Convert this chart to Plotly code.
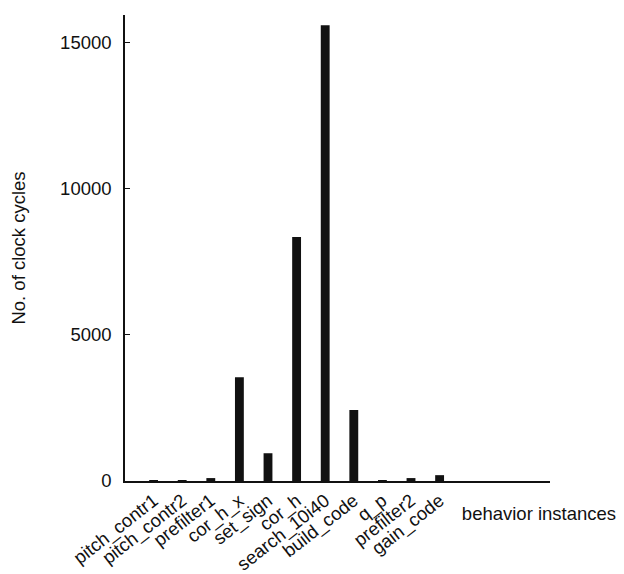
import plotly.graph_objects as go

behaviors = [
    "pitch_contr1", "pitch_contr2", "prefilter1", "cor_h_x", "set_sign",
    "cor_h", "search_10i40", "build_code", "q_p", "prefilter2", "gain_code",
]
cycles = [20, 30, 100, 3550, 950, 8350, 15600, 2430, 30, 100, 200]
y_ticks = [0, 5000, 10000, 15000]
y_labels = ["0", "5000", "10000", "15000"]

font = dict(family="Liberation Sans, Arial, sans-serif", size=18.5, color="#111")

fig = go.Figure(
    go.Bar(
        x=list(range(len(behaviors))),
        y=cycles,
        marker=dict(color="#111111", line=dict(width=0)),
        width=0.31,
    )
)

fig.update_layout(
    width=624,
    height=574,
    margin=dict(l=117, r=82, t=7, b=94),
    plot_bgcolor="white",
    paper_bgcolor="white",
    font=font,
    showlegend=False,
    annotations=[
        dict(
            text="behavior instances",
            x=0.975, y=-0.07, xref="paper", yref="paper",
            xanchor="center", yanchor="middle", showarrow=False,
            width=170, align="center",
            font=font,
        )
    ],
)

fig.update_xaxes(
    range=[-1, 13.86],
    tickmode="array",
    tickvals=list(range(len(behaviors))),
    ticktext=behaviors,
    tickangle=-38,
    ticks="",
    showline=True,
    linecolor="#111",
    linewidth=1.5,
    showgrid=False,
    zeroline=False,
)

fig.update_yaxes(
    range=[0, 15950],
    tickmode="array",
    tickvals=y_ticks,
    ticktext=y_labels,
    ticks="inside",
    ticklen=5,
    tickcolor="#111",
    ticklabelstandoff=8,
    showline=True,
    linecolor="#111",
    linewidth=1.5,
    showgrid=False,
    zeroline=False,
    title=dict(text="No. of clock cycles", standoff=30, font=font),
)

fig.write_html("out.html")
